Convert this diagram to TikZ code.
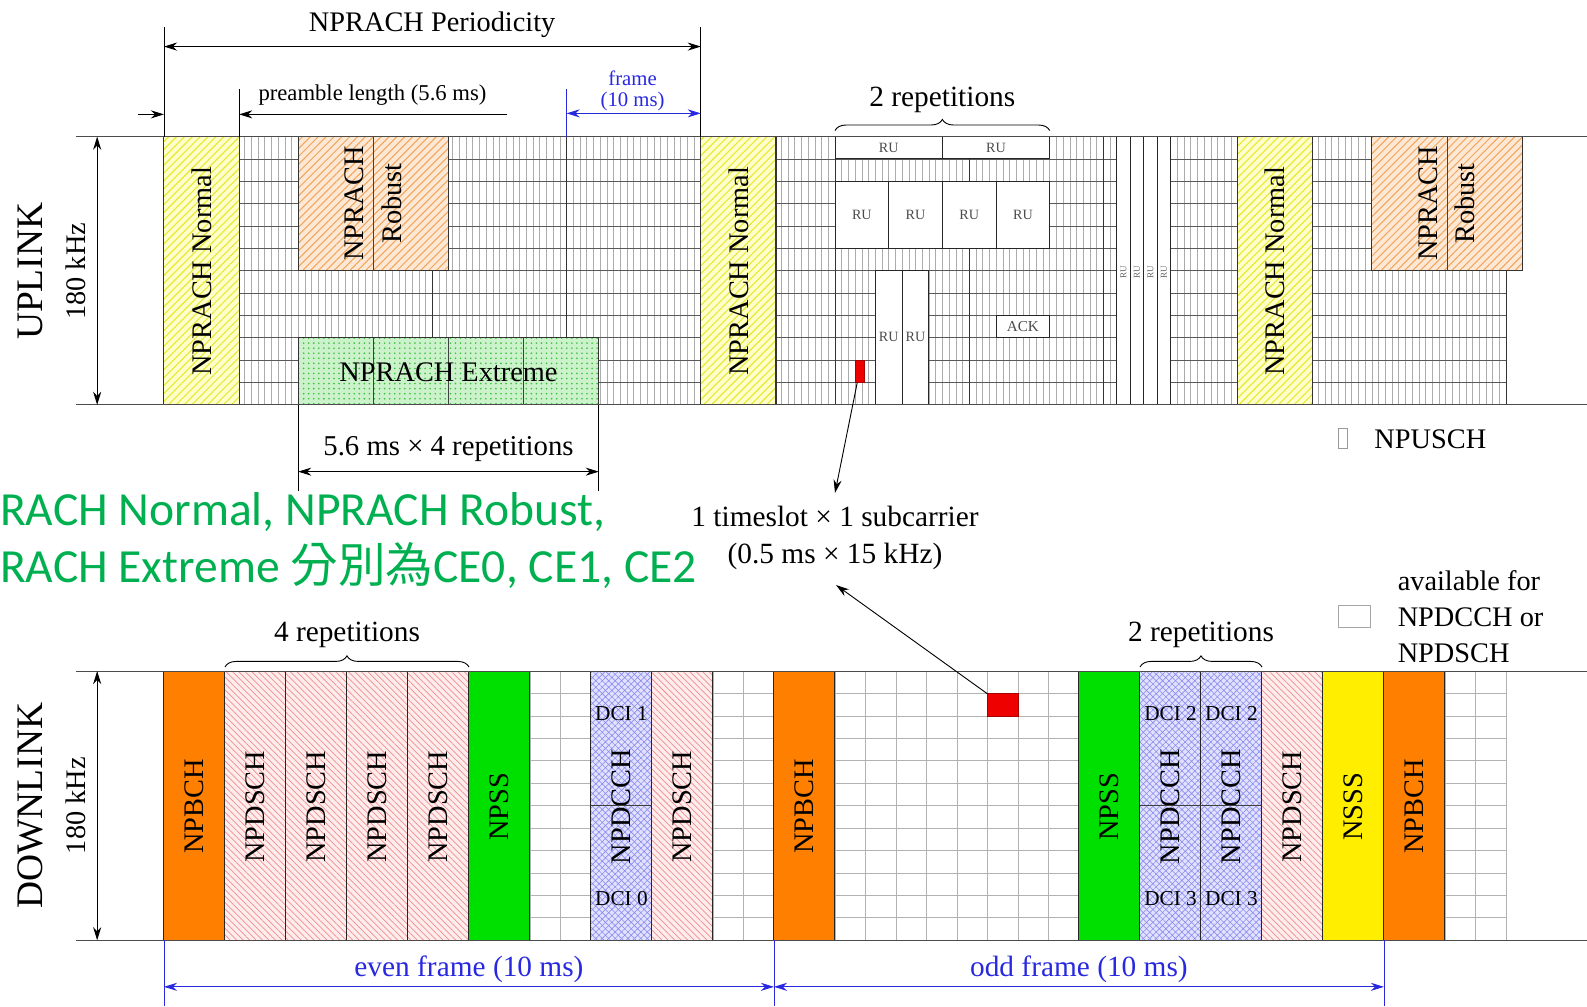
\documentclass[tikz,border=0pt]{standalone}
\usepackage{fontspec}
\setmainfont{Liberation Serif}
\newfontfamily\greenfont{Carlito}
\newfontfamily\cjkfont{Noto Sans CJK TC}
\usetikzlibrary{patterns.meta,arrows.meta,decorations.pathreplacing}
\newcommand\fsz[2]{\fontsize{#1}{#2}\selectfont}
\definecolor{nyel}{HTML}{FFFFCC}
\definecolor{nyelh}{HTML}{E8E830}
\definecolor{nrob}{HTML}{FCE8D4}
\definecolor{nrobh}{HTML}{F2A55A}
\definecolor{nextr}{HTML}{CCF2CC}
\definecolor{nexth}{HTML}{3CC03C}
\definecolor{npd}{HTML}{FFEDED}
\definecolor{npdh}{HTML}{F08C8C}
\definecolor{npc}{HTML}{E2E2FF}
\definecolor{npch}{HTML}{8C8CF0}
\definecolor{bchc}{HTML}{FF8000}
\definecolor{pssc}{HTML}{00E000}
\definecolor{sssc}{HTML}{FFEE00}
\definecolor{redc}{HTML}{EE0000}
\definecolor{cegreen}{HTML}{00B050}
\definecolor{frblue}{HTML}{2828E0}
\tikzset{
  every node/.style={inner sep=0pt, outer sep=0pt},
  ulv/.style={draw=gray!65, line width=0.5pt},
  ulh/.style={draw=black!65, line width=0.7pt},
  frameln/.style={draw=black!80, line width=0.9pt},
  divln/.style={draw=black!75, line width=0.8pt},
  axisln/.style={draw=black!70, line width=1pt},
  dlg/.style={draw=gray!60, line width=0.8pt},
  dimarr/.style={{Stealth[length=13pt,width=8pt]}-{Stealth[length=13pt,width=8pt]}, line width=0.9pt},
  onearr/.style={-{Stealth[length=13pt,width=8pt]}, line width=0.9pt},
  bluedim/.style={dimarr, draw=frblue, fill=frblue},
  normalbox/.style={draw=black!80, line width=1pt, preaction={fill=nyel}, pattern={Lines[angle=45,distance=5.5pt,line width=1.1pt]}, pattern color=nyelh},
  robustbox/.style={draw=black!80, line width=1pt, preaction={fill=nrob}, pattern={Lines[angle=45,distance=5.5pt,line width=1pt]}, pattern color=nrobh},
  extremebox/.style={draw=black!80, line width=1pt, preaction={fill=nextr}, pattern={Dots[distance=5pt,radius=0.9pt]}, pattern color=nexth},
  rubox/.style={draw=black!85, line width=1pt, fill=white},
  pdschbox/.style={draw=black!85, line width=1pt, preaction={fill=npd}, pattern={Lines[angle=-45,distance=4.5pt,line width=0.7pt]}, pattern color=npdh},
  pdcchbox/.style={draw=black!85, line width=1pt, preaction={fill=npc}, pattern={Hatch[angle=45,distance=4.5pt,line width=0.6pt]}, pattern color=npch},
  bchbox/.style={draw=black!85, line width=1pt, fill=bchc},
  pssbox/.style={draw=black!85, line width=1pt, fill=pssc},
  sssbox/.style={draw=black!85, line width=1pt, fill=sssc},
  redbox/.style={fill=redc, draw=redc!70!black, line width=0.5pt},
  collab/.style={rotate=90, font=\fsz{28}{32}},
  rulab/.style={font=\fsz{14}{16}, text=black!70},
  bigtxt/.style={font=\fsz{29}{34}, anchor=base},
  dcilab/.style={font=\fsz{21}{24}},
  mybrace/.style={decorate, decoration={brace, amplitude=11pt}, line width=0.9pt},
}
\newcommand\dlcol[4]{%
  \draw[#2] ({162+#1*60.27},663) rectangle ++(60.27,266);
  \node[collab] (#4) at ({162+(#1+0.5)*60.27},797) {#3};
}
\begin{document}
\begin{tikzpicture}[x=1pt,y=-1pt]
\useasboundingbox (0,0) rectangle (1568,994);

% ================= UPLINK =================
\foreach \i in {1,...,199} \draw[ulv] ({162+\i*6.63},135) -- ({162+\i*6.63},400);
\foreach \j in {1,...,11} \draw[ulh] (162,{135+\j*22.083}) -- (1488,{135+\j*22.083});
\foreach \x in {427.2,559.8,825,957.6,1090.2,1103.46,1488} \draw[frameln] (\x,135) -- (\x,400);

% NPRACH Normal
\draw[normalbox] (162,135) rectangle (236.3,400);
\draw[normalbox] (692.4,135) rectangle (766.7,400);
\draw[normalbox] (1222.8,135) rectangle (1297.1,400);
\node[collab] (nrm1) at (199.15,268) {NPRACH Normal};
\node[collab] (nrm2) at (729.55,268) {NPRACH Normal};
\node[collab] (nrm3) at (1259.95,268) {NPRACH Normal};

% NPRACH Robust
\draw[robustbox] (294.6,135) rectangle (443.1,267.5);
\draw[divln] (368.85,135) -- (368.85,267.5);
\node[collab, align=center, font=\fsz{28}{37}] (rob1) at (368.85,201) {NPRACH\\Robust};
\draw[robustbox] (1355.4,135) rectangle (1503.9,267.5);
\draw[divln] (1429.65,135) -- (1429.65,267.5);
\node[collab, align=center, font=\fsz{28}{37}] (rob2) at (1429.65,201) {NPRACH\\Robust};

% NPRACH Extreme
\draw[extremebox] (294.6,333.75) rectangle (591.6,400);
\foreach \x in {368.85,443.1,517.35} \draw[divln] (\x,333.75) -- (\x,400);
\node[bigtxt, font=\fsz{28}{32}] (ext) at (443.1,377) {NPRACH Extreme};

% RU blocks
\draw[rubox] (825,135) rectangle (931.08,157.08);
\draw[rubox] (931.08,135) rectangle (1037.16,157.08);
\node[rulab] (ru1) at (878.04,146.5) {RU};
\node[rulab] (ru2) at (984.12,146.5) {RU};
\foreach \x [count=\c] in {825,878.04,931.08,984.12} {
  \draw[rubox] (\x,179.17) rectangle ++(53.04,66.25);
  \node[rulab] (rum\c) at ({\x+26.52},212.3) {RU};
}
\draw[rubox] (864.78,267.5) rectangle (891.3,400);
\draw[rubox] (891.3,267.5) rectangle (917.82,400);
\node[rulab] (ruv1) at (878.04,333) {RU};
\node[rulab] (ruv2) at (904.56,333) {RU};
\draw[rubox] (984.12,311.67) rectangle (1037.16,333.75);
\node[rulab, font=\fsz{15}{17}] (ack) at (1010.64,322.7) {ACK};
\foreach \x [count=\c] in {1103.46,1116.72,1129.98,1143.24} {
  \draw[rubox] (\x,135) rectangle ++(13.26,265);
  \node[rotate=90, font=\fsz{9}{10}, text=black!60] (rut\c) at ({\x+6.63},269) {RU};
}
\node[redbox, minimum width=8.6pt, minimum height=22.08pt] (ulred) at (849.2,366.9) {};

% axis lines
\draw[axisln] (75,135) -- (1568,135);
\draw[axisln] (75,400) -- (1568,400);
\draw[dimarr] (96,135) -- (96,400);
\node[rotate=90, font=\fsz{37}{40}] (ultitle) at (30,268) {UPLINK};
\node[rotate=90, font=\fsz{28}{32}] (ulkhz) at (75,268) {180 kHz};

% top annotations
\draw[line width=0.9pt] (162,27) -- (162,135);
\draw[line width=0.9pt] (692.4,27) -- (692.4,135);
\draw[dimarr] (162,46) -- (692.4,46);
\node[bigtxt, font=\fsz{28}{32}] (period) at (427,31) {NPRACH Periodicity};
\draw[line width=0.9pt] (236.3,88) -- (236.3,135);
\draw[onearr] (136,113) -- (162,113);
\draw[onearr] (501,113) -- (236.3,113);
\node[bigtxt, font=\fsz{22.4}{26}] (pre) at (368,99) {preamble length (5.6 ms)};
\draw[line width=0.9pt, draw=frblue] (559.8,88) -- (559.8,135);
\draw[bluedim] (559.8,112) -- (692.4,112);
\node[bigtxt, font=\fsz{20.5}{23}, text=frblue] (fr1) at (625,84) {frame};
\node[bigtxt, font=\fsz{20.5}{23}, text=frblue] (fr2) at (625,105) {(10 ms)};
\draw[mybrace] (825,129) -- (1037.16,129);
\node[bigtxt] (rep2u) at (931,105) {2 repetitions};

% below uplink
\draw[line width=0.9pt] (294.6,400) -- (294.6,485);
\draw[line width=0.9pt] (591.6,400) -- (591.6,485);
\draw[dimarr] (294.6,466) -- (591.6,466);
\node[bigtxt, font=\fsz{28.4}{32}] (rep4x) at (443.1,450) {5.6 ms × 4 repetitions};
\node[draw=gray!80, line width=0.8pt, minimum width=9pt, minimum height=20pt] (npuschbox) at (1326.5,433) {};
\node[font=\fsz{28}{32}, anchor=base west] (npusch) at (1358,443) {NPUSCH};

% timeslot note
\node[bigtxt] (ts1) at (825,520) {1 timeslot × 1 subcarrier};
\node[bigtxt] (ts2) at (825,557) {(0.5 ms × 15 kHz)};
\coordinate (tsTop) at (825,487);
\coordinate (tsBot) at (826,578);

% green note
\node[anchor=base west, font=\greenfont\fsz{47}{54}, text=cegreen] (ce1) at (0,519) {RACH Normal, NPRACH Robust,};
\node[anchor=base west, font=\greenfont\fsz{47}{54}, text=cegreen] (ce2) at (0,576) {RACH Extreme {\cjkfont 分別為}CE0, CE1, CE2};

% ================= DOWNLINK =================
\foreach \i in {1,...,43} \draw[dlg] ({162+\i*30.136},663) -- ({162+\i*30.136},929);
\foreach \j in {1,...,11} \draw[dlg] (162,{663+\j*22.167}) -- (1488,{663+\j*22.167});
\draw[dlg] (1488,663) -- (1488,929);

\dlcol{0}{bchbox}{NPBCH}{dl0}
\dlcol{1}{pdschbox}{NPDSCH}{dl1}
\dlcol{2}{pdschbox}{NPDSCH}{dl2}
\dlcol{3}{pdschbox}{NPDSCH}{dl3}
\dlcol{4}{pdschbox}{NPDSCH}{dl4}
\dlcol{5}{pssbox}{NPSS}{dl5}
\dlcol{7}{pdcchbox}{NPDCCH}{dl7}
\dlcol{8}{pdschbox}{NPDSCH}{dl8}
\dlcol{10}{bchbox}{NPBCH}{dl10}
\dlcol{15}{pssbox}{NPSS}{dl15}
\dlcol{16}{pdcchbox}{NPDCCH}{dl16}
\dlcol{17}{pdcchbox}{NPDCCH}{dl17}
\dlcol{18}{pdschbox}{NPDSCH}{dl18}
\dlcol{19}{sssbox}{NSSS}{dl19}
\dlcol{20}{bchbox}{NPBCH}{dl20}
\draw[divln] (583.89,796) -- (644.16,796);
\draw[divln] (1126.32,796) -- (1246.86,796);
\node[dcilab] (dci1) at (614.0,705) {DCI 1};
\node[dcilab] (dci0) at (614.0,888) {DCI 0};
\node[dcilab] (dci2a) at (1156.5,705) {DCI 2};
\node[dcilab] (dci2b) at (1216.7,705) {DCI 2};
\node[dcilab] (dci3a) at (1156.5,888) {DCI 3};
\node[dcilab] (dci3b) at (1216.7,888) {DCI 3};
\node[redbox, minimum width=30.1pt, minimum height=22.2pt] (dlred) at (990.7,696.3) {};

\draw[axisln] (75,663) -- (1568,663);
\draw[axisln] (75,929) -- (1568,929);
\draw[dimarr] (96,663) -- (96,929);
\node[rotate=90, font=\fsz{37}{40}] (dltitle) at (30,796) {DOWNLINK};
\node[rotate=90, font=\fsz{28}{32}] (dlkhz) at (75,796) {180 kHz};

\draw[mybrace] (222.27,659) -- (463.35,659);
\node[bigtxt] (rep4) at (342.8,634) {4 repetitions};
\draw[mybrace] (1126.32,659) -- (1246.86,659);
\node[bigtxt] (rep2d) at (1186.6,634) {2 repetitions};

% legend
\node[draw=gray!70, line width=0.8pt, minimum width=31pt, minimum height=22pt] (avbox) at (1338,609) {};
\node[anchor=base west, font=\fsz{28}{32}] (av1) at (1381,583) {available for};
\node[anchor=base west, font=\fsz{28}{32}] (av2) at (1381,619) {NPDCCH or};
\node[anchor=base west, font=\fsz{28}{32}] (av3) at (1381,655) {NPDSCH};

% frame arrows
\draw[line width=0.9pt, draw=frblue] (162,929) -- (162,994);
\draw[line width=0.9pt, draw=frblue] (764.7,929) -- (764.7,994);
\draw[line width=0.9pt, draw=frblue] (1367.4,929) -- (1367.4,994);
\draw[bluedim] (162,975) -- (764.7,975);
\draw[bluedim] (764.7,975) -- (1367.4,975);
\node[bigtxt, text=frblue] (even) at (463.35,965) {even frame (10 ms)};
\node[bigtxt, text=frblue] (odd) at (1066,965) {odd frame (10 ms)};

% pointer arrows
\draw[onearr] (ulred) -- (tsTop);
\draw[onearr] (dlred) -- (tsBot);
\end{tikzpicture}
\end{document}
